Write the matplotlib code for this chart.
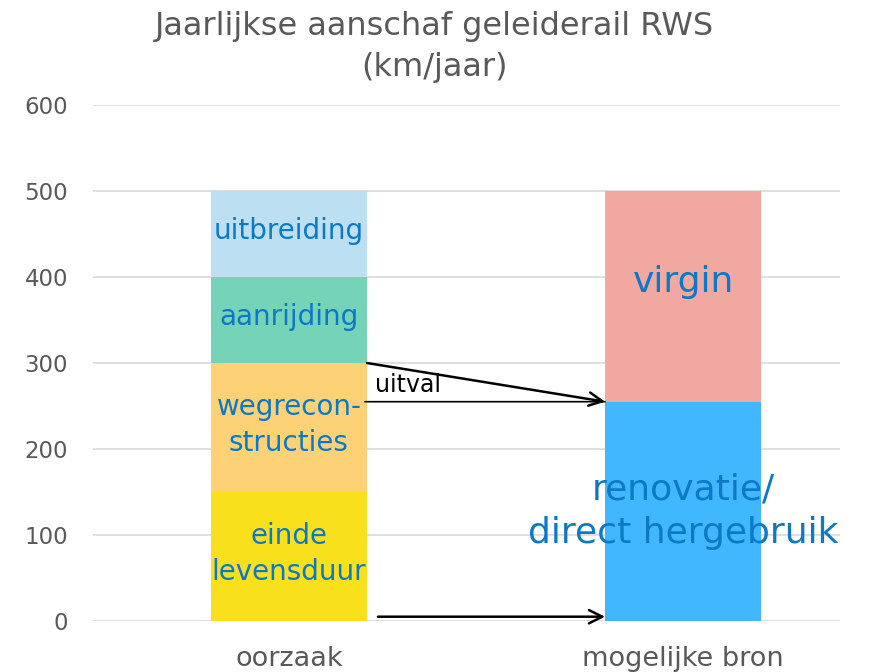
import numpy as np
import matplotlib.pyplot as plt

# gegevens (km/jaar)
categorieen = ['oorzaak', 'mogelijke bron']
oorzaak_labels = ['einde\nlevensduur', 'wegrecon-\nstructies', 'aanrijding', 'uitbreiding']
oorzaak_waarden = [150, 150, 100, 100]
oorzaak_kleuren = ['#F8E01C', '#FDD175', '#75D3B7', '#BDDFF2']
bron_labels = ['renovatie/\ndirect hergebruik', 'virgin']
bron_waarden = [255, 245]
bron_kleuren = ['#41B7FF', '#F1A8A0']

tekst_blauw = '#0B78C8'
grijs = '#595959'
breedte = 0.396

fig = plt.figure(figsize=(8.69, 6.72), dpi=100)
ax = fig.add_axes([93/869, 1 - 621/672, (840-93)/869, (621-105)/672])

# linker staaf
onder = 0
for w, lab, k in zip(oorzaak_waarden, oorzaak_labels, oorzaak_kleuren):
    ax.bar(0, w, bottom=onder, width=breedte, color=k, zorder=2)
    ax.text(0, onder + w/2 + 3, lab, ha='center', va='center', color=tekst_blauw,
            fontsize=20, linespacing=1.35, zorder=3)
    onder += w

# rechter staaf (label 'virgin' staat hoger dan het midden)
onder = 0
for i, (w, lab, k) in enumerate(zip(bron_waarden, bron_labels, bron_kleuren)):
    ax.bar(1, w, bottom=onder, width=breedte, color=k, zorder=2)
    y_lab = onder + w/2 if i == 0 else onder + w*0.57
    ax.text(1, y_lab, lab, ha='center', va='center', color=tekst_blauw,
            fontsize=26, linespacing=1.33, zorder=3)
    onder += w

# pijlen
rand_l = breedte/2
rand_r = 1 - breedte/2
pijl = dict(arrowstyle='->', color='black', lw=1.8, mutation_scale=24, shrinkA=0, shrinkB=0)
ax.annotate('', xy=(rand_r, bron_waarden[0]), xytext=(rand_l, 300), arrowprops=pijl, zorder=4)
ax.annotate('', xy=(rand_r, bron_waarden[0]), xytext=(rand_l - 0.005, bron_waarden[0]),
            arrowprops=dict(arrowstyle='-', color='black', lw=1.2, shrinkA=0, shrinkB=0), zorder=4)
ax.text(rand_l + 0.02, bron_waarden[0] + 5, 'uitval', ha='left', va='bottom', fontsize=17, color='black')
ax.annotate('', xy=(rand_r, 5), xytext=(rand_l + 0.028, 5), arrowprops=pijl, zorder=4)

ax.set_xlim(-0.497, 1.398)
ax.set_ylim(0, 600)
ax.set_yticks(np.arange(0, 601, 100))
ax.set_xticks([0, 1])
ax.set_xticklabels(categorieen)
ax.tick_params(axis='both', length=0, colors=grijs)
ax.tick_params(axis='y', pad=18, labelsize=16.5)
ax.tick_params(axis='x', pad=18, labelsize=19.5)
ax.grid(axis='y', color='#D9D9D9', lw=1.2, zorder=0)
for s in ax.spines.values():
    s.set_visible(False)

fig.text(0.5, 0.983, 'Jaarlijkse aanschaf geleiderail RWS\n(km/jaar)', ha='center', va='top',
         fontsize=23, color=grijs, linespacing=1.38)

fig.savefig('out.png', dpi=100)
